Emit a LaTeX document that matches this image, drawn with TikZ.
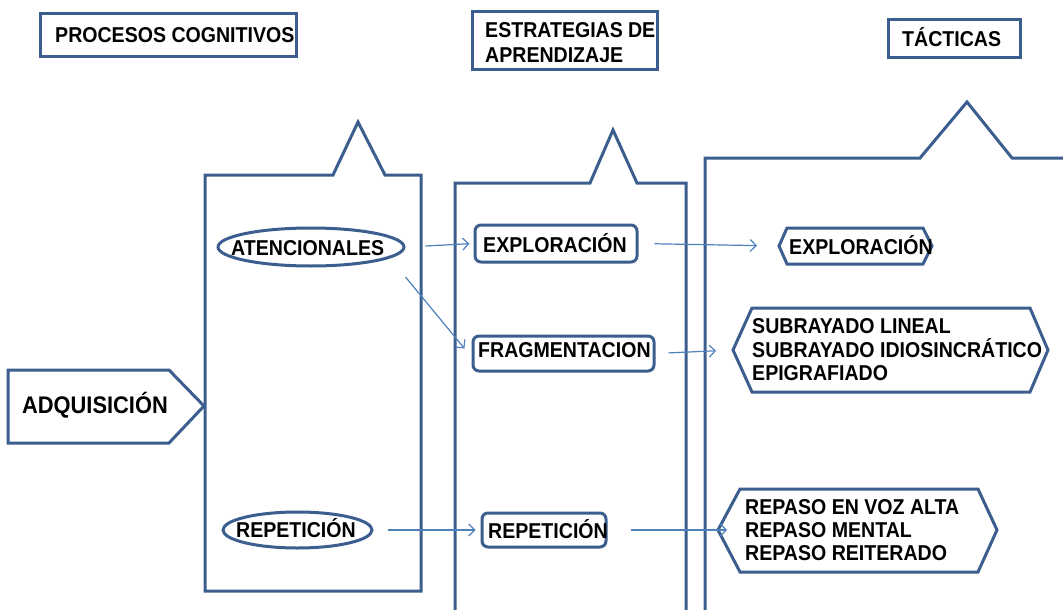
\documentclass[tikz,border=0pt]{standalone}
\usepackage{fontspec}
\setmainfont{Liberation Sans}[FakeStretch=0.91]
\usetikzlibrary{arrows.meta,calc,shapes.geometric}
\definecolor{shp}{HTML}{3B5E8E}
\definecolor{arr}{HTML}{4F81BD}
\begin{document}
\begin{tikzpicture}[x=1pt,y=-1pt,
  shp/.style={draw=shp, line width=3pt},
  box/.style={shp, rectangle, inner sep=0pt},
  rbox/.style={shp, rectangle, rounded corners=6pt, inner sep=0pt},
  ell/.style={shp, ellipse, inner sep=0pt},
  txt/.style={font=\bfseries\fontsize{21.5}{23.5}\selectfont, inner sep=0pt, anchor=base west},
  mtxt/.style={font=\bfseries\fontsize{21.5}{23.5}\selectfont, inner sep=0pt, anchor=west, align=left},
  conn/.style={draw=arr, line width=1.2pt, -{Straight Barb[length=6pt,width=12pt,line width=1.2pt]}}
]
\clip (0,0) rectangle (1063,610);
\fill[white] (0,0) rectangle (1063,610);

% header boxes
\node[box, minimum width=256pt, minimum height=43pt] (hpc) at (168,35.5) {};
\node[txt] (tpc) at (55,42.5) {PROCESOS COGNITIVOS};
\node[box, minimum width=185pt, minimum height=58pt] (hea) at (564.5,41) {};
\node[mtxt, font=\bfseries\fontsize{21.5}{25}\selectfont] (tea) at (485,42.8) {\makebox[170pt][s]{ESTRATEGIAS DE}\\APRENDIZAJE};
\node[box, minimum width=132pt, minimum height=38pt] (hta) at (954,39) {};
\node[txt] (tta) at (902,46.5) {TÁCTICAS};

% callout columns
\draw[shp] (205,175) -- (333,175) -- (358,122) -- (385,175) -- (421,175) -- (421,591) -- (205,591) -- cycle;
\draw[shp] (455,620) -- (455,183) -- (590,183) -- (613,130) -- (637,183) -- (686,183) -- (686,620);
\draw[shp] (705,620) -- (705,158) -- (920,158) -- (967,102) -- (1012,158) -- (1075,158);

% adquisicion
\draw[shp] (8,370) -- (169,370) -- (204,406) -- (169,443) -- (8,443) -- cycle;
\node[txt, font=\bfseries\fontsize{24}{26}\selectfont] (tadq) at (22,413.5) {ADQUISICIÓN};

% procesos
\node[ell, minimum width=186pt, minimum height=38pt] (atenc) at (311,247) {};
\node[txt] (tatenc) at (231,255.5) {ATENCIONALES};
\node[ell, minimum width=149pt, minimum height=36pt] (rep1) at (297.5,530) {};
\node[txt] (trep1) at (236,537.5) {REPETICIÓN};

% estrategias
\node[rbox, minimum width=162pt, minimum height=37pt] (expl1) at (556,243.5) {};
\node[txt] (texpl1) at (483,252) {EXPLORACIÓN};
\node[rbox, minimum width=181pt, minimum height=35pt] (frag) at (563.5,353.5) {};
\node[txt] (tfrag) at (478,357) {FRAGMENTACION};
\node[rbox, minimum width=124pt, minimum height=34pt] (rep2) at (544,530) {};
\node[txt] (trep2) at (488,538) {REPETICIÓN};

% tacticas
\draw[shp] (779,246) -- (787,228) -- (923,228) -- (932,246) -- (923,264) -- (787,264) -- cycle;
\coordinate (hex1) at (779,246);
\node[txt] (thex1) at (789,254) {EXPLORACIÓN};
\draw[shp] (733,350) -- (752,308) -- (1030,308) -- (1048,350) -- (1030,392) -- (752,392) -- cycle;
\coordinate (hex2) at (733,350);
\node[mtxt] (thex2) at (752,349.8) {SUBRAYADO LINEAL\\SUBRAYADO IDIOSINCRÁTICO\\EPIGRAFIADO};
\draw[shp] (718,530) -- (740,489) -- (978,489) -- (997,530) -- (978,572) -- (740,572) -- cycle;
\coordinate (hex3) at (718,530);
\node[mtxt, font=\bfseries\fontsize{21.5}{23}\selectfont] (thex3) at (745,530.3) {REPASO EN VOZ ALTA\\REPASO MENTAL\\REPASO REITERADO};

% connectors
\draw[conn, shorten <=20pt, shorten >=4pt] (atenc.east) -- (expl1.west);
\draw[conn] ($(atenc.east)+(0,30)$) -- ($(frag.west)+(-7,-5)$);
\draw[conn, shorten <=14pt, shorten >=5pt] (rep1.east) -- (rep2.west);
\draw[conn, shorten <=16pt, shorten >=22pt] (expl1.east) -- (hex1);
\draw[conn, shorten <=13pt, shorten >=17pt] (frag.east) -- (hex2);
\draw[conn, shorten <=23pt, shorten >=-9pt] (rep2.east) -- (hex3);
\end{tikzpicture}
\end{document}
